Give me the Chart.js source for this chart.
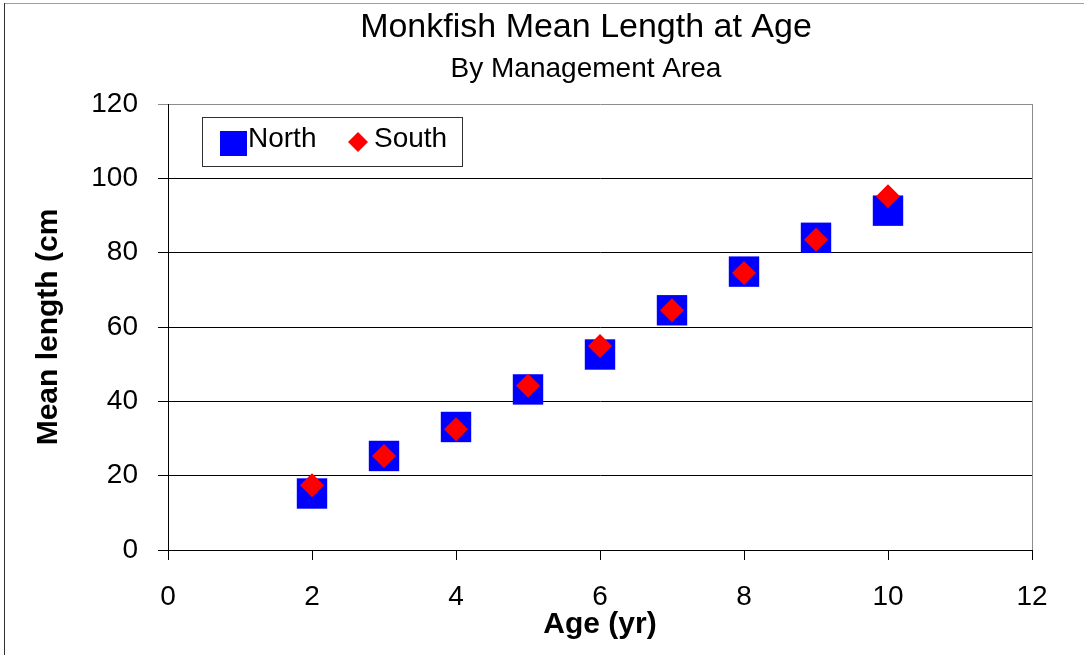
<!DOCTYPE html>
<html>
<head>
<meta charset="utf-8">
<title>Monkfish Mean Length at Age</title>
<script src="https://cdn.jsdelivr.net/npm/chart.js@4/dist/chart.umd.min.js"></script>
<style>
  html, body { margin: 0; padding: 0; background: #ffffff; }
  canvas { display: block; }
</style>
</head>
<body>
<canvas id="chart" width="1084" height="655"></canvas>
<script>
// Mean length (cm) at age (yr) for each management area
const ages = [2, 3, 4, 5, 6, 7, 8, 9, 10];
const northLength = [15.2, 25.3, 33.1, 43.2, 52.6, 64.5, 74.9, 84.0, 91.3];
const southLength = [17.4, 25.3, 32.5, 44.2, 54.9, 64.5, 74.5, 83.5, 95.2];
const seriesNames = ['North', 'South'];

// Axis ticks and labels
const xTickValues = [0, 2, 4, 6, 8, 10, 12];
const yTickValues = [0, 20, 40, 60, 80, 100, 120];
const chartTitle = 'Monkfish Mean Length at Age';
const chartSubtitle = 'By Management Area';
const xAxisTitle = 'Age (yr)';
const yAxisTitle = 'Mean length (cm';

const FONT = '"Liberation Sans", Arial, Helvetica, sans-serif';
const NORTH_COLOR = '#0000ff';
const SOUTH_COLOR = '#ff0000';

const toPoints = (xs, ys) => xs.map((x, i) => ({ x: x, y: ys[i] }));

// Page background, outer frame and the two-line heading
const framePlugin = {
  id: 'frame',
  beforeDraw(chart) {
    const ctx = chart.ctx;
    ctx.save();
    ctx.fillStyle = '#ffffff';
    ctx.fillRect(0, 0, chart.width, chart.height);
    ctx.lineWidth = 1;
    ctx.strokeStyle = '#a0a0a0';
    ctx.beginPath();
    ctx.moveTo(4, 3.5);
    ctx.lineTo(chart.width, 3.5);
    ctx.stroke();
    ctx.strokeStyle = '#303030';
    ctx.beginPath();
    ctx.moveTo(4.5, 3);
    ctx.lineTo(4.5, chart.height);
    ctx.stroke();

    ctx.fillStyle = '#000000';
    ctx.textAlign = 'center';
    ctx.textBaseline = 'alphabetic';
    ctx.font = '34px ' + FONT;
    ctx.fillText(chartTitle, 586, 37);
    ctx.font = '28px ' + FONT;
    ctx.fillText(chartSubtitle, 586, 77);
    ctx.restore();
  }
};

// Grey right edge of the plot area
const plotEdgePlugin = {
  id: 'plotEdge',
  beforeDatasetsDraw(chart) {
    const { ctx, chartArea } = chart;
    ctx.save();
    ctx.strokeStyle = '#8c8c8c';
    ctx.lineWidth = 1;
    ctx.beginPath();
    ctx.moveTo(Math.round(chartArea.right) + 0.5, chartArea.top);
    ctx.lineTo(Math.round(chartArea.right) + 0.5, chartArea.bottom);
    ctx.stroke();
    ctx.restore();
  }
};

// Boxed legend inside the upper-left of the plot
const boxLegendPlugin = {
  id: 'boxLegend',
  afterDatasetsDraw(chart) {
    const ctx = chart.ctx;
    const ds = chart.data.datasets;
    ctx.save();
    ctx.fillStyle = '#ffffff';
    ctx.fillRect(202.5, 117.5, 260, 49);
    ctx.strokeStyle = '#303030';
    ctx.lineWidth = 1;
    ctx.strokeRect(202.5, 117.5, 260, 49);

    // North marker: square
    ctx.fillStyle = ds[0].backgroundColor;
    ctx.fillRect(220, 131, 27, 25);
    // South marker: diamond
    const cx = 358, cy = 142, r = 10;
    ctx.fillStyle = ds[1].backgroundColor;
    ctx.beginPath();
    ctx.moveTo(cx, cy - r);
    ctx.lineTo(cx + r, cy);
    ctx.lineTo(cx, cy + r);
    ctx.lineTo(cx - r, cy);
    ctx.closePath();
    ctx.fill();

    ctx.fillStyle = '#000000';
    ctx.font = '28px ' + FONT;
    ctx.textAlign = 'left';
    ctx.textBaseline = 'alphabetic';
    ctx.fillText(ds[0].label, 248, 147);
    ctx.fillText(ds[1].label, 374, 147);
    ctx.restore();
  }
};

new Chart(document.getElementById('chart'), {
  type: 'scatter',
  data: {
    datasets: [
      {
        label: seriesNames[0],
        data: toPoints(ages, northLength),
        pointStyle: 'rect',
        pointRadius: 21.5,
        pointHoverRadius: 21.5,
        backgroundColor: NORTH_COLOR,
        borderColor: NORTH_COLOR,
        borderWidth: 0,
        order: 2
      },
      {
        label: seriesNames[1],
        data: toPoints(ages, southLength),
        pointStyle: 'rectRot',
        pointRadius: 12,
        pointHoverRadius: 12,
        backgroundColor: SOUTH_COLOR,
        borderColor: SOUTH_COLOR,
        borderWidth: 0,
        order: 1
      }
    ]
  },
  options: {
    responsive: false,
    animation: false,
    events: [],
    layout: { padding: { left: 0, top: 104, right: 52, bottom: 0 } },
    plugins: {
      legend: { display: false },
      title: { display: false },
      tooltip: { enabled: false }
    },
    scales: {
      x: {
        type: 'linear',
        position: 'bottom',
        min: xTickValues[0],
        max: xTickValues[xTickValues.length - 1],
        afterFit(scale) { scale.height = 105; },
        afterBuildTicks(scale) { scale.ticks = xTickValues.map(v => ({ value: v })); },
        ticks: {
          color: '#000000',
          font: { family: FONT, size: 28 },
          padding: 20,
          maxRotation: 0,
          autoSkip: false
        },
        grid: {
          drawOnChartArea: false,
          drawTicks: true,
          tickLength: 10,
          color: '#000000',
          lineWidth: 1
        },
        border: { display: true, color: '#000000', width: 1 },
        title: {
          display: true,
          text: xAxisTitle,
          color: '#000000',
          font: { family: FONT, size: 30, weight: 'bold' },
          padding: { top: 0, bottom: 12 }
        }
      },
      y: {
        type: 'linear',
        position: 'left',
        min: yTickValues[0],
        max: yTickValues[yTickValues.length - 1],
        afterFit(scale) { scale.width = 168; },
        afterBuildTicks(scale) { scale.ticks = yTickValues.map(v => ({ value: v })); },
        ticks: {
          color: '#000000',
          font: { family: FONT, size: 28 },
          padding: 20,
          autoSkip: false
        },
        grid: {
          drawOnChartArea: true,
          drawTicks: true,
          tickLength: 10,
          color: ctx => (ctx.tick && ctx.tick.value === yTickValues[yTickValues.length - 1]) ? '#8c8c8c' : '#000000',
          lineWidth: 1
        },
        border: { display: true, color: '#000000', width: 1 },
        title: {
          display: true,
          text: yAxisTitle,
          color: '#000000',
          font: { family: FONT, size: 30, weight: 'bold' },
          padding: { top: 31, bottom: 0 }
        }
      }
    }
  },
  plugins: [framePlugin, plotEdgePlugin, boxLegendPlugin]
});
</script>
</body>
</html>
